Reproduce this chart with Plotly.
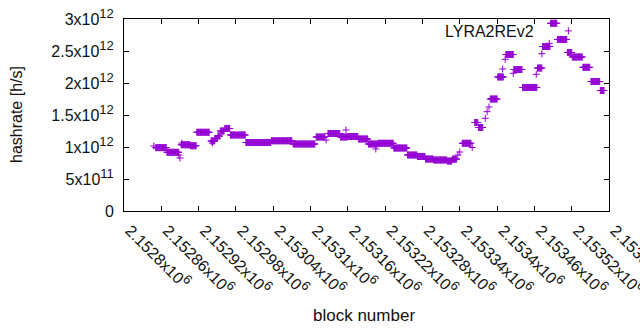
import plotly.graph_objects as go

# ---- data ----
# runs of consecutive blocks that share the same hashrate estimate
run_start = [2152851, 2152869, 2152892, 2152907, 2152917, 2152940, 2152946, 2152951,
             2152955, 2152962, 2152971, 2152996, 2153037, 2153072, 2153109, 2153128,
             2153148, 2153160, 2153177, 2153193, 2153209, 2153234, 2153256, 2153272,
             2153285, 2153298, 2153320, 2153328, 2153344, 2153364, 2153370, 2153389,
             2153401, 2153414, 2153427, 2153441, 2153465, 2153473, 2153486, 2153497,
             2153513, 2153521, 2153538, 2153551, 2153566]
run_end = [2152868, 2152888, 2152906, 2152916, 2152937, 2152945, 2152950, 2152954,
           2152961, 2152970, 2152995, 2153036, 2153070, 2153107, 2153123, 2153147,
           2153159, 2153176, 2153192, 2153208, 2153233, 2153255, 2153271, 2153284,
           2153297, 2153319, 2153327, 2153335, 2153358, 2153369, 2153377, 2153400,
           2153410, 2153426, 2153440, 2153464, 2153472, 2153485, 2153496, 2153512,
           2153520, 2153537, 2153549, 2153565, 2153572]
run_value = [0.990e12, 0.917e12, 1.035e12, 1.020e12, 1.230e12, 1.094e12, 1.133e12, 1.172e12,
             1.250e12, 1.289e12, 1.188e12, 1.070e12, 1.097e12, 1.047e12, 1.156e12, 1.211e12,
             1.156e12, 1.164e12, 1.125e12, 1.047e12, 1.058e12, 0.984e12, 0.875e12, 0.852e12,
             0.812e12, 0.797e12, 0.781e12, 0.810e12, 1.058e12, 1.383e12, 1.305e12, 1.750e12,
             2.094e12, 2.445e12, 2.211e12, 1.930e12, 2.234e12, 2.570e12, 2.933e12, 2.680e12,
             2.477e12, 2.406e12, 2.245e12, 2.023e12, 1.883e12]

# isolated samples
iso_block = [2152848, 2152888, 2152890, 2152893, 2152942, 2153125, 2153157, 2153205,
             2153337, 2153340, 2153360, 2153381, 2153384, 2153387, 2153409, 2153413,
             2153426, 2153463, 2153472, 2153484]
iso_value = [1.016e12, 0.875e12, 0.828e12, 1.062e12, 1.062e12, 1.109e12, 1.266e12, 0.969e12,
             0.875e12, 0.922e12, 0.992e12, 1.448e12, 1.552e12, 1.625e12, 2.219e12, 2.370e12,
             2.152e12, 2.136e12, 2.458e12, 2.620e12]

SUP = "<sup><span style='font-size:13px'>{}</span></sup>"
x_tick_vals = [2152800, 2152860, 2152920, 2152980, 2153040, 2153100, 2153160,
               2153220, 2153280, 2153340, 2153400, 2153460, 2153520, 2153580]
x_tick_mant = ["2.1528", "2.15286", "2.15292", "2.15298", "2.15304", "2.1531", "2.15316",
               "2.15322", "2.15328", "2.15334", "2.1534", "2.15346", "2.15352", "2.15358"]
x_tick_exp = ["6"] * 14
y_tick_vals = [0, 0.5e12, 1.0e12, 1.5e12, 2.0e12, 2.5e12, 3.0e12]
y_tick_mant = ["0", "5", "1", "1.5", "2", "2.5", "3"]
y_tick_exp = ["", "11", "12", "12", "12", "12", "12"]

series_name = "LYRA2REv2"
x_range = [2152800, 2153580]
y_range = [0, 3.0e12]


def label(m, e):
    return m if not e else m + "x10" + SUP.format(e)


x_tick_text = [label(m, e) for m, e in zip(x_tick_mant, x_tick_exp)]
y_tick_text = [label(m, e) for m, e in zip(y_tick_mant, y_tick_exp)]

# ---- expand runs into per-block samples ----
xs, ys = [], []
for s, e, v in zip(run_start, run_end, run_value):
    for b in range(s, e + 1):
        xs.append(b)
        ys.append(v)
xs += iso_block
ys += iso_value

COLOR = "#9400D3"
FONT = "Liberation Sans"
TXT = "#111111"

fig = go.Figure()
fig.add_trace(go.Scatter(
    x=xs, y=ys, mode="markers", name=" ",
    marker=dict(symbol="cross-thin", size=5, line=dict(color=COLOR, width=1), color=COLOR),
    showlegend=True,
))

axis_common = dict(
    showline=True, linecolor="black", linewidth=1, mirror="allticks",
    ticks="inside", ticklen=5, tickcolor="black", tickwidth=1,
    showgrid=False, zeroline=False, ticklabeloverflow="allow",
    tickfont=dict(family=FONT, size=16, color=TXT),
)

fig.update_xaxes(range=x_range, tickvals=x_tick_vals, ticktext=x_tick_text,
                 tickangle=45, ticklabelshift=6, ticklabelstandoff=3, **axis_common)
fig.update_yaxes(range=y_range, tickvals=y_tick_vals, ticktext=y_tick_text,
                 ticklabelstandoff=6, **axis_common)

fig.update_layout(
    width=640, height=330,
    margin=dict(l=124, r=31, t=19, b=119, autoexpand=False),
    paper_bgcolor="white", plot_bgcolor="white",
    font=dict(family=FONT, size=16, color=TXT),
    legend=dict(x=0.875, y=0.9375, xanchor="left", yanchor="middle",
                bgcolor="rgba(0,0,0,0)", font=dict(size=16)),
    annotations=[
        dict(text=series_name, x=0.849, y=0.9375, xref="paper", yref="paper",
             xanchor="right", yanchor="middle", showarrow=False,
             font=dict(family=FONT, size=16, color=TXT)),
        dict(text="hashrate [h/s]", x=-(124 - 16) / 485, y=0.5, xref="paper", yref="paper",
             xanchor="center", yanchor="middle", textangle=-90, showarrow=False,
             font=dict(family=FONT, size=16, color=TXT)),
        dict(text="block number", x=(364 - 124) / 485, y=(211 - 315) / 192,
             xref="paper", yref="paper", xanchor="center", yanchor="middle",
             showarrow=False, font=dict(family=FONT, size=17, color=TXT)),
    ],
)

fig.write_html("out.html", config={"displayModeBar": False},
               post_script="document.body.style.margin='0px';")
